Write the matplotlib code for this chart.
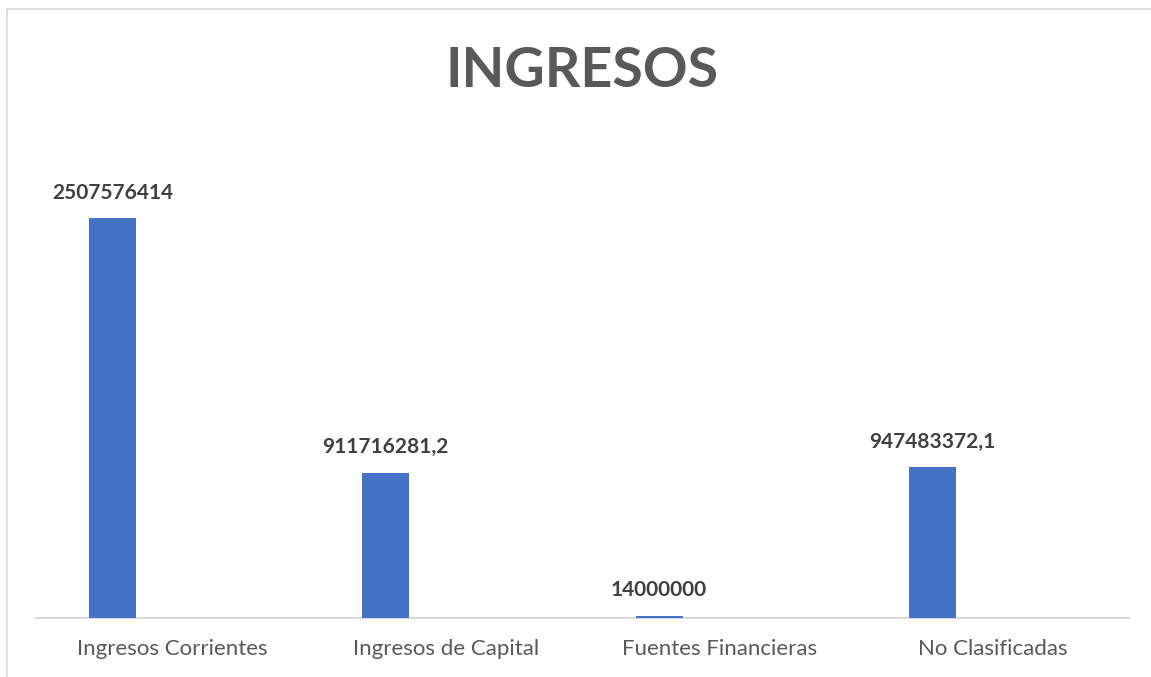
import matplotlib
matplotlib.use("Agg")
import matplotlib.pyplot as plt
from matplotlib.lines import Line2D

categories = ["Ingresos Corrientes", "Ingresos de Capital", "Fuentes Financieras", "No Clasificadas"]
values = [2507576414, 911716281.2, 14000000, 947483372.1]
value_labels = ["2507576414", "911716281,2", "14000000", "947483372,1"]
title = "INGRESOS"

W, H = 1151, 677
dpi = 100
fig = plt.figure(figsize=(W / dpi, H / dpi), dpi=dpi)
fig.patch.set_facecolor("white")

font = ["Lato", "DejaVu Sans"]

# axes position in pixels
left_px, right_px, bottom_px = 36, 1129, 618
ymax = 3.0e9
top_px = bottom_px - ymax * (618 - 218) / values[0]
ax = fig.add_axes([left_px / W, (H - bottom_px) / H, (right_px - left_px) / W, (bottom_px - top_px) / H])

x = list(range(len(categories)))
offset = -0.22
width = 0.172
bars = ax.bar([i + offset for i in x], values, width=width, color="#4472C4", zorder=3)

for b, lab in zip(bars, value_labels):
    ax.annotate(lab, (b.get_x() + b.get_width() / 2, b.get_height()),
                xytext=(0, 11), textcoords="offset points", ha="center", va="bottom",
                fontsize=15, fontweight="bold", color="#404040", family=font)

ax.set_xlim(-0.5, len(categories) - 0.5)
ax.set_ylim(0, ymax)
ax.set_xticks(x)
ax.set_xticklabels(categories, fontsize=16, color="#595959", family=font)
ax.tick_params(axis="x", length=0, pad=15)
ax.set_yticks([])
for s in ["top", "left", "right"]:
    ax.spines[s].set_visible(False)
ax.spines["bottom"].set_color("#d9d9d9")
ax.spines["bottom"].set_linewidth(1.5)

fig.text(582 / W, 1 - 71 / H, title, ha="center", va="center", fontsize=40,
         fontweight="bold", color="#595959", family=font)

# chart border (partially visible)
fig.add_artist(Line2D([6.5 / W, 6.5 / W], [0, 1 - 8.5 / H], transform=fig.transFigure,
                      color="#d9d9d9", lw=1.2))
fig.add_artist(Line2D([6.5 / W, 1], [1 - 8.5 / H, 1 - 8.5 / H], transform=fig.transFigure,
                      color="#d9d9d9", lw=1.2))

fig.savefig("out.png", dpi=dpi)
